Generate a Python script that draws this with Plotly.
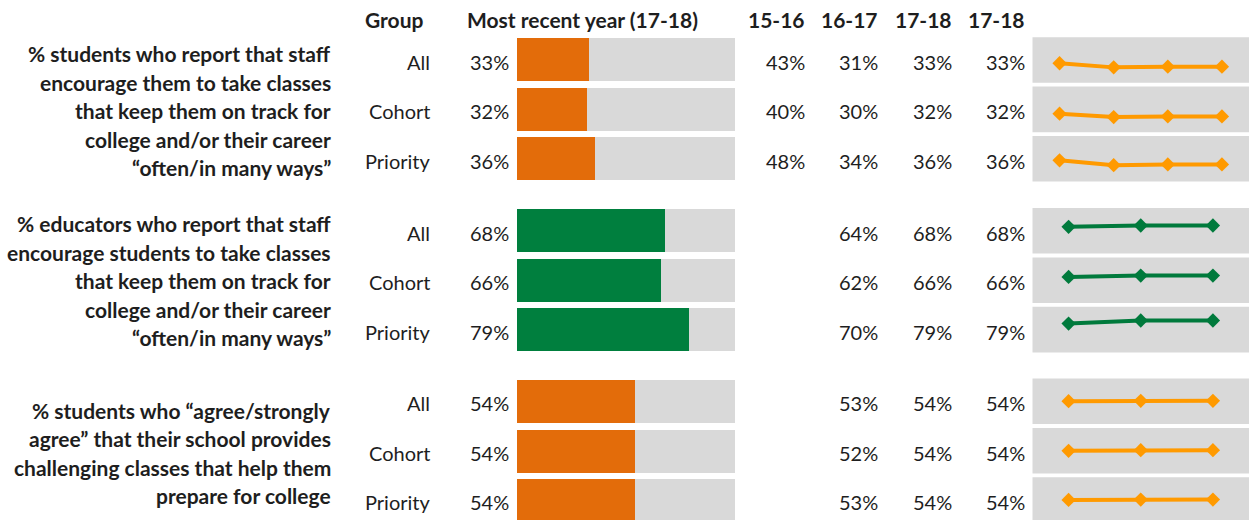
import plotly.graph_objects as go

W, H = 1249, 520

# ---------------- data ----------------
groups = ["All", "Cohort", "Priority"]
year_labels = ["15-16", "16-17", "17-18", "17-18"]
recent_header = "Most recent year (17-18)"

question_1 = ["% students who report that staff", "encourage them to take classes",
              "that keep them on track for", "college and/or their career",
              "“often/in many ways”"]
question_2 = ["% educators who report that staff", "encourage students to take classes",
              "that keep them on track for", "college and/or their career",
              "“often/in many ways”"]
question_3 = ["% students who “agree/strongly", "agree” that their school provides",
              "challenging classes that help them", "prepare for college"]

recent_q1 = [33, 32, 36]
recent_q2 = [68, 66, 79]
recent_q3 = [54, 54, 54]

trend_q1_all = [43, 31, 33, 33]
trend_q1_cohort = [40, 30, 32, 32]
trend_q1_priority = [48, 34, 36, 36]
trend_q2_all = [None, 64, 68, 68]
trend_q2_cohort = [None, 62, 66, 66]
trend_q2_priority = [None, 70, 79, 79]
trend_q3_all = [None, 53, 54, 54]
trend_q3_cohort = [None, 52, 54, 54]
trend_q3_priority = [None, 53, 54, 54]

# ---------------- styling / layout ----------------
FONT = "Lato"
TXT = "#1e1e1e"
GREY = "#D9D9D9"
BAR_COLORS = ["#E36C0A", "#007F3E", "#E36C0A"]
SPARK_COLORS = ["#FF9A00", "#007A3C", "#FF9A00"]
REG_SIZE = 20
BOLD_SIZE = 21

questions = [question_1, question_2, question_3]
recents = [recent_q1, recent_q2, recent_q3]
trends = [[trend_q1_all, trend_q1_cohort, trend_q1_priority],
          [trend_q2_all, trend_q2_cohort, trend_q2_priority],
          [trend_q3_all, trend_q3_cohort, trend_q3_priority]]

first_center = [60.0, 230.8, 401.3]
pitch = 49.4
bar_h = 43.0
panel_h = 45.6
bar_x0, bar_x1 = 517, 735
spark_x0, spark_x1 = 1032.5, 1249
spark_lo, spark_hi = -14, 119
q_line0 = [53.5, 223.5, 410.0]
q_line_gap = 28.6
label_dy = 2.0
year_x = [807, 880, 953.5, 1026.5]

fig = go.Figure()
annotations = []
shapes = []
layout = dict()


def py(p):
    return 1 - p / H


def px(p):
    return p / W


def ann(text, x, y, anchor="right", bold=False):
    annotations.append(dict(
        text=f"<b>{text}</b>" if bold else text, x=px(x), y=py(y),
        xref="paper", yref="paper", xanchor=anchor, yanchor="middle",
        showarrow=False,
        font=dict(family=FONT, size=BOLD_SIZE if bold else REG_SIZE, color=TXT)))


# bar x axis
layout["xaxis"] = dict(domain=[px(bar_x0), px(bar_x1)], range=[0, 100],
                       visible=False, fixedrange=True, anchor="y")

for g in range(3):
    c0 = first_center[g]
    yname = "y" if g == 0 else f"y{g + 1}"
    ykey = "yaxis" if g == 0 else f"yaxis{g + 1}"
    top = c0 - pitch / 2
    bot = c0 + 2 * pitch + pitch / 2
    tclip, bclip = max(top, 0), min(bot, H)
    layout[ykey] = dict(
        domain=[py(bclip), py(tclip)], type="category",
        categoryorder="array", categoryarray=groups,
        range=[(bclip - c0) / pitch, (tclip - c0) / pitch],
        visible=False, fixedrange=True, anchor="x")
    # grey background (100%)
    fig.add_trace(go.Bar(x=[100] * 3, y=groups, orientation="h", xaxis="x", yaxis=yname,
                         marker=dict(color=GREY, line=dict(width=0)),
                         width=bar_h / pitch, hoverinfo="skip", showlegend=False))
    fig.add_trace(go.Bar(x=recents[g], y=groups, orientation="h", xaxis="x", yaxis=yname,
                         marker=dict(color=BAR_COLORS[g], line=dict(width=0)),
                         width=bar_h / pitch, showlegend=False))

    # question text
    for i, line in enumerate(questions[g]):
        ann(line, 333, q_line0[g] + i * q_line_gap, bold=True)

    for r in range(3):
        cy = c0 + r * pitch
        ann(groups[r], 432, cy + label_dy)
        ann(f"{recents[g][r]}%", 511, cy + label_dy)
        for j, xr in enumerate(year_x):
            v = trends[g][r][j]
            if v is not None:
                ann(f"{v}%", xr, cy + label_dy)

        # sparkline subplot
        k = 4 + g * 3 + r
        t = cy - panel_h / 2
        b = cy + panel_h / 2
        tclip, bclip = max(t, 0), min(b, H)
        per_px = (spark_hi - spark_lo) / panel_h
        lo = spark_lo + (b - bclip) * per_px
        hi = spark_hi - (tclip - t) * per_px
        vals = [v for v in trends[g][r] if v is not None]
        n = len(vals)
        layout[f"xaxis{k}"] = dict(domain=[px(spark_x0), px(spark_x1)], anchor=f"y{k}",
                                   range=[-0.5, n - 0.5], visible=False, fixedrange=True)
        layout[f"yaxis{k}"] = dict(domain=[py(bclip), py(tclip)], anchor=f"x{k}",
                                   range=[lo, hi], visible=False, fixedrange=True)
        shapes.append(dict(type="rect", xref=f"x{k} domain", yref=f"y{k} domain",
                           x0=0, x1=1, y0=0, y1=1, fillcolor=GREY,
                           line=dict(width=0), layer="below"))
        fig.add_trace(go.Scatter(x=list(range(n)), y=vals, xaxis=f"x{k}", yaxis=f"y{k}",
                                 mode="lines+markers",
                                 line=dict(color=SPARK_COLORS[g], width=4),
                                 marker=dict(symbol="diamond", size=11, color=SPARK_COLORS[g]),
                                 showlegend=False, hoverinfo="skip"))

# headers
ann("Group", 426, 20, bold=True)
ann(recent_header, 582.5, 20, anchor="center", bold=True)
for j, xr in enumerate(year_x):
    ann(year_labels[j], xr, 20, bold=True)

fig.update_layout(
    width=W, height=H, autosize=False,
    margin=dict(l=0, r=0, t=0, b=0, pad=0),
    paper_bgcolor="white", plot_bgcolor="white",
    barmode="overlay", bargap=0,
    annotations=annotations, shapes=shapes,
    showlegend=False, **layout)

fig.write_html("out.html", config={"displayModeBar": False},
               post_script="document.body.style.margin='0';document.body.style.overflow='hidden';")
